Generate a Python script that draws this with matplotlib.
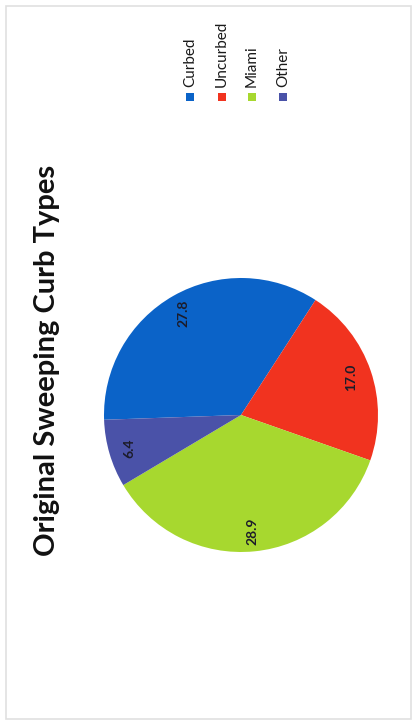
import matplotlib
matplotlib.use('Agg')
import matplotlib.pyplot as plt
from matplotlib.patches import Rectangle

categories = ['Curbed', 'Uncurbed', 'Miami', 'Other']
values = [27.8, 17.0, 28.9, 6.4]
colors = ['#0b63c8', '#f1331f', '#a7d82f', '#4a52a8']

TITLE = 'Original Sweeping Curb Types'

W, H = 417, 725
fig = plt.figure(figsize=(W / 100, H / 100), dpi=100)
fig.patch.set_facecolor('white')

# faint frame of the scanned page
fig.add_artist(Rectangle((6 / W, 6 / H), (W - 12) / W, (H - 12) / H,
                         transform=fig.transFigure, fill=False,
                         edgecolor='#e0e0e0', linewidth=1.2))

# pie: centre (241, 415) px, radius 137 px
cx, cy, r = 241, 415, 137
ax = fig.add_axes([(cx - r) / W, (H - cy - r) / H, 2 * r / W, 2 * r / H])
total = sum(values)
wedges, texts, autotexts = ax.pie(
    values, colors=colors, startangle=182, counterclock=False,
    autopct=lambda p: f'{p * total / 100:.1f}', pctdistance=0.85,
    wedgeprops={'linewidth': 0},
    textprops={'fontsize': 10, 'color': '#1c1c2a', 'family': 'Lato',
               'fontweight': 'bold'})
for t in autotexts:
    t.set_rotation(90)
ax.set_xlim(-1, 1)
ax.set_ylim(-1, 1)
ax.set_aspect('auto')

# title, rotated like the scan
fig.text(47 / W, 1 - 360 / H, TITLE, rotation=90, ha='center', va='center',
         fontsize=21, fontweight='bold', family='Lato', color='#111111')

# legend drawn by hand (rotated)
leg_x = [190, 222, 252, 283]
for x, name, c in zip(leg_x, categories, colors):
    fig.add_artist(Rectangle(((x - 4) / W, 1 - 101 / H), 8 / W, 8 / H,
                             transform=fig.transFigure, color=c, lw=0))
    fig.text(x / W, 1 - 87 / H, name, rotation=90, ha='center', va='bottom',
             fontsize=11, family='Lato', color='#1a1a1a')

fig.savefig('out.png', dpi=100)
